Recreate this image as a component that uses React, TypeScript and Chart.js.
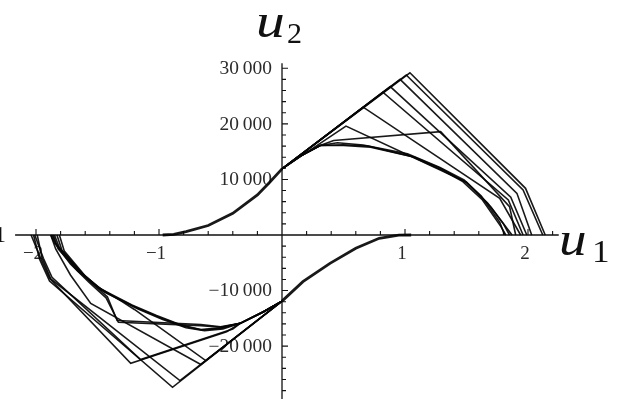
import React, { useEffect, useRef } from "react";
import { Chart, registerables } from "chart.js";

Chart.register(...registerables);

type Pt = [number, number];

// ---- axes -------------------------------------------------------------
const X_RANGE: Pt = [-2.2927, 2.7398];
const Y_RANGE: Pt = [-29512, 42289];
const X_AXIS_SPAN: Pt = [-2.17, 2.25];
const Y_AXIS_TOP = 30900;

const X_MAJOR_TICKS = [-2, -1, 1, 2];
const X_TICK_LABELS = ["\u22122", "\u22121", "1", "2"];
const X_MINOR_TICKS = [-1.8, -1.6, -1.4, -1.2, -0.8, -0.6, -0.4, -0.2, 0.2, 0.4, 0.6, 0.8, 1.2, 1.4, 1.6, 1.8, 2.2];

const Y_MAJOR_TICKS = [-20000, -10000, 10000, 20000, 30000];
const Y_TICK_LABELS = ["\u221220\u2009000", "\u221210\u2009000", "10\u2009000", "20\u2009000", "30\u2009000"];
const Y_MINOR_TICKS = [
  -28000, -26000, -24000, -22000, -18000, -16000, -14000, -12000, -8000, -6000, -4000, -2000,
  2000, 4000, 6000, 8000, 12000, 14000, 16000, 18000, 22000, 24000, 26000, 28000,
];

// ---- upper family (u2 > 0) -------------------------------------------
const UP_STEM: Pt[] = [
  [-0.97, 0], [-0.88, 100], [-0.78, 600], [-0.6, 1700], [-0.4, 3900], [-0.2, 7200], [-0.1, 9500], [0, 11900],
];
const UP_BEND: Pt[] = [[0.15, 14200], [0.31, 16100]];

const UP_BAND_1: Pt[] = [[0.5, 16100], [0.72, 15800], [1.06, 14100], [1.3, 11700], [1.47, 9600], [1.63, 6300], [1.78, 1500], [1.82, 0]];
const UP_BAND_2: Pt[] = [[0.5, 16250], [0.7, 16000], [1.08, 14000], [1.3, 11900], [1.5, 9400], [1.67, 5800], [1.8, 2000], [1.85, 0]];
const UP_BAND_3: Pt[] = [[0.45, 16600], [0.66, 16200], [1.02, 14600], [1.28, 12200], [1.48, 9900], [1.62, 7000], [1.77, 2300], [1.81, 0]];
const UP_SHELF: Pt[] = [[0.42, 17000], [1.29, 18600], [1.85, 5100], [1.9, 0]];

const UP_RIDGE_1: Pt[] = [[0.52, 19600], [1.5, 9500], [1.7, 5000], [1.87, 0]];
const UP_RIDGE_2: Pt[] = [[0.66, 23000], [1.77, 6600], [1.94, 0]];
const UP_RIDGE_3: Pt[] = [[0.82, 25700], [1.84, 6300], [1.96, 0]];
const UP_RIDGE_4: Pt[] = [[0.88, 26700], [1.86, 6800], [1.99, 0]];
const UP_RIDGE_5: Pt[] = [[0.96, 28000], [1.91, 7500], [2.03, 0]];
const UP_RIDGE_6: Pt[] = [[1.01, 28800], [1.96, 8100], [2.12, 0]];
const UP_RIDGE_7: Pt[] = [[1.04, 29200], [1.98, 8400], [2.14, 0]];

// ---- lower family (u2 < 0) -------------------------------------------
const LOW_STEM: Pt[] = [
  [1.05, 0], [0.95, -20], [0.79, -600], [0.6, -2400], [0.39, -5100], [0.17, -8400], [0, -11900],
];
const LOW_BEND: Pt[] = [[-0.15, -13800], [-0.34, -15900]];

const LOW_BAND_1: Pt[] = [[-0.5, -16800], [-0.65, -17100], [-0.8, -16400], [-1.0, -14800], [-1.2, -12900], [-1.47, -9900], [-1.62, -7000], [-1.79, -2700], [-1.83, 0]];
const LOW_BAND_2: Pt[] = [[-0.5, -16700], [-0.66, -17000], [-0.82, -16200], [-1.02, -14500], [-1.22, -12600], [-1.5, -9400], [-1.66, -6500], [-1.82, -2500], [-1.86, 0]];
const LOW_BAND_3: Pt[] = [[-0.48, -16900], [-0.63, -17200], [-0.78, -16700], [-0.97, -15200], [-1.17, -13300], [-1.44, -10300], [-1.6, -7400], [-1.77, -2900], [-1.81, 0]];
const LOW_SHELF_1: Pt[] = [[-0.5, -16500], [-0.66, -16100], [-1.34, -15400], [-1.42, -11100], [-1.55, -8600], [-1.7, -5300], [-1.84, -1500], [-1.87, 0]];
const LOW_SHELF_2: Pt[] = [[-0.5, -16600], [-0.66, -16300], [-1.33, -15700], [-1.43, -11300], [-1.57, -8500], [-1.72, -5200], [-1.85, -1400], [-1.88, 0]];
const LOW_KNEE_1: Pt[] = [[-0.45, -17400], [-1.23, -23100], [-1.89, -7800], [-1.96, -4300], [-2.04, 0]];
const LOW_KNEE_2: Pt[] = [[-0.4, -16900], [-1.15, -22400], [-1.87, -7600], [-1.94, -4200], [-2.01, 0]];

const LOW_RIDGE_1: Pt[] = [[-0.89, -27400], [-1.89, -8300], [-1.97, -4400], [-2.02, 0]];
const LOW_RIDGE_2: Pt[] = [[-0.83, -26200], [-1.88, -7900], [-1.95, -4200], [-1.99, 0]];
const LOW_RIDGE_3: Pt[] = [[-0.66, -23300], [-1.555, -12300], [-1.72, -7200], [-1.84, -2500], [-1.88, 0]];
const LOW_RIDGE_4: Pt[] = [[-0.62, -22600], [-1.2, -13400], [-1.3, -12000], [-1.5, -9300], [-1.65, -6400], [-1.81, -2300], [-1.85, 0]];

const UPPER_VIA_BEND = [UP_BAND_1, UP_BAND_2, UP_BAND_3, UP_SHELF];
const UPPER_DIRECT = [UP_RIDGE_1, UP_RIDGE_2, UP_RIDGE_3, UP_RIDGE_4, UP_RIDGE_5, UP_RIDGE_6, UP_RIDGE_7];
const LOWER_VIA_BEND = [LOW_BAND_1, LOW_BAND_2, LOW_BAND_3, LOW_SHELF_1, LOW_SHELF_2, LOW_KNEE_1, LOW_KNEE_2];
const LOWER_DIRECT = [LOW_RIDGE_1, LOW_RIDGE_2, LOW_RIDGE_3, LOW_RIDGE_4];

const INK = "rgba(5,5,5,0.92)";
const LABEL_INK = "#2b2b2b";
const SERIF = '"Liberation Serif", "Times New Roman", serif';

function series(pts: Pt[], width: number) {
  return {
    data: pts.map(([x, y]) => ({ x, y })),
    showLine: true,
    borderColor: INK,
    backgroundColor: INK,
    borderWidth: width,
    pointRadius: 0,
    tension: 0,
    fill: false,
    borderJoinStyle: "miter" as const,
  };
}

function buildDatasets() {
  const upEnd = UP_STEM[UP_STEM.length - 1];
  const lowEnd = LOW_STEM[LOW_STEM.length - 1];
  const sets = [series(UP_STEM, 2.8), series(LOW_STEM, 2.8)];
  UPPER_VIA_BEND.forEach((b) => sets.push(series([upEnd, ...UP_BEND, ...b], 1.6)));
  UPPER_DIRECT.forEach((b) => sets.push(series([upEnd, ...b], 1.6)));
  LOWER_VIA_BEND.forEach((b) => sets.push(series([lowEnd, ...LOW_BEND, ...b], 1.6)));
  LOWER_DIRECT.forEach((b) => sets.push(series([lowEnd, ...b], 1.6)));
  return sets;
}

// Draws text squeezed or widened horizontally around its left edge.
function stretchedText(ctx: CanvasRenderingContext2D, text: string, x: number, y: number, sx: number) {
  ctx.save();
  ctx.translate(x, y);
  ctx.scale(sx, 1);
  ctx.fillText(text, 0, 0);
  ctx.restore();
}

// Axes crossing at the origin, ticks and tick labels (under the curves).
const crossAxes = {
  id: "crossAxes",
  beforeDatasetsDraw(chart: any) {
    const { ctx, scales } = chart;
    const sx = scales.x;
    const sy = scales.y;
    const x0 = sx.getPixelForValue(0);
    const y0 = sy.getPixelForValue(0);
    ctx.save();
    ctx.strokeStyle = "#111";
    ctx.lineWidth = 1.3;
    ctx.beginPath();
    ctx.moveTo(sx.getPixelForValue(X_AXIS_SPAN[0]), y0);
    ctx.lineTo(sx.getPixelForValue(X_AXIS_SPAN[1]), y0);
    ctx.moveTo(x0, sy.getPixelForValue(Y_AXIS_TOP));
    ctx.lineTo(x0, chart.chartArea.bottom);
    ctx.stroke();

    ctx.lineWidth = 1.1;
    ctx.beginPath();
    X_MAJOR_TICKS.forEach((v) => {
      const p = sx.getPixelForValue(v);
      ctx.moveTo(p, y0);
      ctx.lineTo(p, y0 - 6);
    });
    X_MINOR_TICKS.forEach((v) => {
      const p = sx.getPixelForValue(v);
      ctx.moveTo(p, y0);
      ctx.lineTo(p, y0 - 4);
    });
    Y_MAJOR_TICKS.forEach((v) => {
      const p = sy.getPixelForValue(v);
      ctx.moveTo(x0, p);
      ctx.lineTo(x0 + 6, p);
    });
    Y_MINOR_TICKS.forEach((v) => {
      const p = sy.getPixelForValue(v);
      ctx.moveTo(x0, p);
      ctx.lineTo(x0 + 4, p);
    });
    ctx.stroke();

    ctx.fillStyle = LABEL_INK;
    ctx.font = `19px ${SERIF}`;
    ctx.textAlign = "center";
    ctx.textBaseline = "alphabetic";
    X_MAJOR_TICKS.forEach((v, i) => {
      ctx.fillText(X_TICK_LABELS[i], sx.getPixelForValue(v) - 3, y0 + 24);
    });
    ctx.font = `18px ${SERIF}`;
    ctx.textAlign = "left";
    ctx.textBaseline = "middle";
    Y_MAJOR_TICKS.forEach((v, i) => {
      const w = ctx.measureText(Y_TICK_LABELS[i]).width;
      stretchedText(ctx, Y_TICK_LABELS[i], x0 - 10 - w * 1.08, sy.getPixelForValue(v) + 1, 1.08);
    });
    ctx.restore();
  },
  afterDraw(chart: any) {
    const { ctx } = chart;
    ctx.save();
    ctx.fillStyle = "#111";
    ctx.textAlign = "left";
    ctx.textBaseline = "alphabetic";
    // vertical axis title u₂
    ctx.font = `italic 48px ${SERIF}`;
    stretchedText(ctx, "u", 256, 37, 1.2);
    ctx.font = `30px ${SERIF}`;
    ctx.fillText("2", 287, 43);
    // horizontal axis title u₁
    ctx.font = `italic 48px ${SERIF}`;
    stretchedText(ctx, "u", 559, 255, 1.15);
    ctx.font = `32px ${SERIF}`;
    stretchedText(ctx, "1", 592, 262, 1.1);
    // clipped glyph at the left edge
    ctx.font = `24px ${SERIF}`;
    ctx.fillText("1", -6, 242);
    ctx.restore();
  },
};

export default function App() {
  const canvasRef = useRef<HTMLCanvasElement | null>(null);

  useEffect(() => {
    document.body.style.margin = "0";
    const canvas = canvasRef.current;
    if (!canvas) return;
    const chart = new Chart(canvas, {
      type: "scatter",
      data: { datasets: buildDatasets() as any },
      options: {
        animation: false,
        responsive: false,
        devicePixelRatio: 1,
        layout: { padding: 0 },
        plugins: { legend: { display: false }, tooltip: { enabled: false } },
        scales: {
          x: { type: "linear", min: X_RANGE[0], max: X_RANGE[1], display: false },
          y: { type: "linear", min: Y_RANGE[0], max: Y_RANGE[1], display: false },
        },
      },
      plugins: [crossAxes],
    });
    let alive = true;
    const fonts = (document as any).fonts;
    if (fonts && fonts.load) {
      Promise.all([
        fonts.load('18px "Liberation Serif"'),
        fonts.load('italic 48px "Liberation Serif"'),
      ])
        .catch(() => undefined)
        .then(() => {
          if (alive) chart.draw();
        });
    }
    return () => {
      alive = false;
      chart.destroy();
    };
  }, []);

  return (
    <div style={{ width: 619, height: 399, background: "#fff" }}>
      <canvas ref={canvasRef} width={619} height={399} style={{ display: "block" }} />
    </div>
  );
}
